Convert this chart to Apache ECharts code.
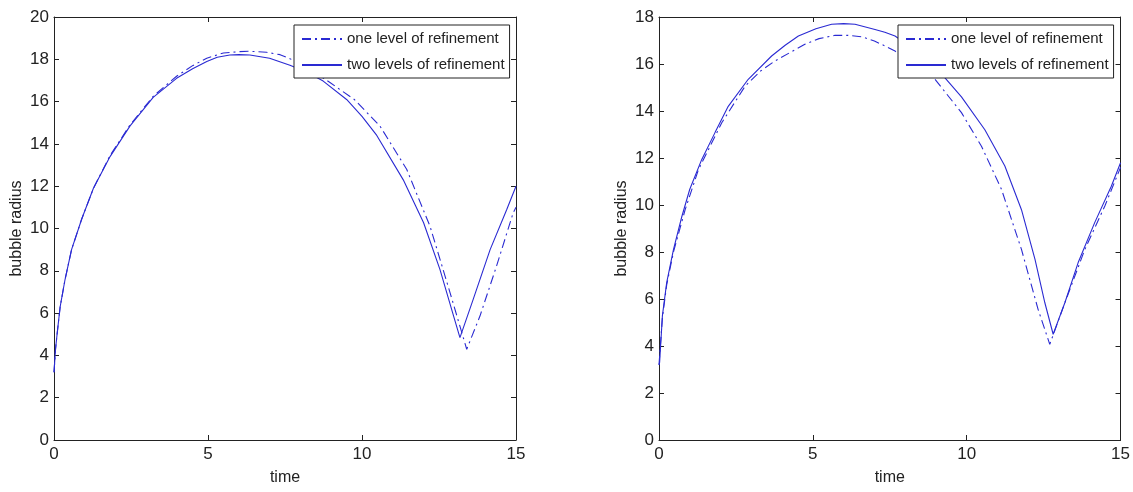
<!DOCTYPE html>
<html>
<head>
<meta charset="utf-8">
<script src="https://cdn.jsdelivr.net/npm/echarts@6/dist/echarts.min.js"></script>
<style>
  html, body { margin: 0; padding: 0; background: #fff; }
  #chart { width: 1133px; height: 492px; }
</style>
</head>
<body>
<div id="chart"></div>
<script>
// Bubble radius over time, two refinement levels, two runs side by side.
const seriesNames = ['one level of refinement', 'two levels of refinement'];
const xTicks = { min: 0, max: 15, step: 5 };
const leftYTicks = { min: 0, max: 20, step: 2 };
const rightYTicks = { min: 0, max: 18, step: 2 };

// left panel: [time, radius]
const leftOneLevel = [
  [0, 3.2], [0.05, 4.3], [0.1, 5.0], [0.2, 6.3], [0.36, 7.6], [0.57, 9.0],
  [0.9, 10.45], [1.28, 11.9], [1.82, 13.45], [2.47, 14.9], [3.22, 16.25],
  [3.98, 17.2], [4.5, 17.7], [4.96, 18.05], [5.5, 18.3], [6.0, 18.36],
  [6.36, 18.38], [6.9, 18.33], [7.34, 18.22], [7.66, 18.03], [8.3, 17.55],
  [8.96, 16.9], [9.75, 16.1], [10.58, 14.85], [11.45, 12.8], [12.21, 10.1],
  [12.86, 6.96], [13.4, 4.29], [13.83, 5.86], [14.37, 8.23], [14.91, 10.75],
  [15, 11.0]
];
const leftTwoLevels = [
  [0, 3.2], [0.05, 4.3], [0.1, 5.0], [0.2, 6.3], [0.36, 7.6], [0.57, 9.0],
  [0.9, 10.45], [1.28, 11.9], [1.82, 13.4], [2.47, 14.85], [3.22, 16.2],
  [3.98, 17.1], [4.5, 17.55], [4.96, 17.9], [5.3, 18.1], [5.71, 18.2],
  [6.0, 18.22], [6.36, 18.2], [7.0, 18.05], [7.66, 17.72], [8.2, 17.4],
  [8.74, 16.97], [9.5, 16.1], [10.0, 15.3], [10.48, 14.4], [11.34, 12.3],
  [12.0, 10.27], [12.53, 8.07], [12.91, 6.18], [13.18, 4.84], [13.61, 6.65],
  [14.16, 9.0], [14.7, 10.9], [15, 12.0]
];

// right panel: [time, radius]
const rightOneLevel = [
  [0, 3.2], [0.11, 5.2], [0.25, 6.6], [0.47, 8.0], [0.85, 9.8], [1.28, 11.5],
  [2.04, 13.5], [2.8, 15.06], [3.3, 15.7], [3.77, 16.13], [4.74, 16.84],
  [5.2, 17.08], [5.72, 17.22], [6.15, 17.22], [6.59, 17.16], [7.0, 16.98],
  [7.34, 16.77], [7.67, 16.55], [8.3, 16.05], [8.97, 15.35], [9.83, 13.93],
  [10.48, 12.5], [11.13, 10.67], [11.78, 8.11], [12.32, 5.56], [12.7, 4.07],
  [13.19, 5.84], [13.84, 8.11], [14.49, 9.96], [15, 11.6]
];
const rightTwoLevels = [
  [0, 3.2], [0.02, 3.3], [0.11, 5.28], [0.25, 6.7], [0.47, 8.1], [0.74, 9.5],
  [1.0, 10.67], [1.39, 11.94], [1.82, 13.08], [2.25, 14.2], [2.9, 15.35],
  [3.66, 16.34], [4.1, 16.8], [4.53, 17.19], [5.1, 17.5], [5.61, 17.69],
  [6.0, 17.72], [6.37, 17.69], [7.02, 17.47], [7.34, 17.35], [7.67, 17.19],
  [7.99, 16.9], [8.5, 16.45], [8.97, 15.9], [9.83, 14.6], [10.59, 13.2],
  [11.24, 11.66], [11.78, 9.8], [12.22, 7.69], [12.54, 5.84], [12.81, 4.5],
  [13.19, 5.84], [13.62, 7.54], [14.16, 9.25], [14.7, 10.8], [15, 11.8]
];

const lineColor = '#2a2ad2';
const axisColor = '#222';
const tickFont = { fontFamily: 'Liberation Sans', fontSize: 17, color: '#222' };
const nameFont = { fontFamily: 'Liberation Sans', fontSize: 16, color: '#222' };
const legendFont = { fontFamily: 'Liberation Sans', fontSize: 15, color: '#222' };
const dashDot = [9, 4, 2, 4];

const grids = [
  { left: 54, top: 17, width: 462, height: 423 },
  { left: 659, top: 17, width: 462, height: 423 }
];

function xAxisPair(gi) {
  const base = {
    type: 'value', gridIndex: gi, min: xTicks.min, max: xTicks.max, interval: xTicks.step,
    splitLine: { show: false },
    axisLine: { show: true, onZero: false, lineStyle: { color: axisColor, width: 1 } },
    axisTick: { show: true, inside: true, length: 5, lineStyle: { color: axisColor } }
  };
  return [
    Object.assign({}, base, {
      position: 'bottom', name: 'time', nameLocation: 'middle', nameGap: 30,
      nameTextStyle: nameFont,
      axisLabel: Object.assign({ margin: 6, showMinLabel: true, showMaxLabel: true }, tickFont)
    }),
    Object.assign({}, base, { position: 'top', axisLabel: { show: false } })
  ];
}

function yAxisPair(gi, ticks) {
  const base = {
    type: 'value', gridIndex: gi, min: ticks.min, max: ticks.max, interval: ticks.step,
    splitLine: { show: false },
    axisLine: { show: true, onZero: false, lineStyle: { color: axisColor, width: 1 } },
    axisTick: { show: true, inside: true, length: 5, lineStyle: { color: axisColor } }
  };
  return [
    Object.assign({}, base, {
      position: 'left', name: 'bubble radius', nameLocation: 'middle', nameGap: 29,
      nameRotate: 90, nameTextStyle: nameFont,
      axisLabel: Object.assign({ margin: 5, showMinLabel: true, showMaxLabel: true }, tickFont)
    }),
    Object.assign({}, base, { position: 'right', axisLabel: { show: false } })
  ];
}

function lineSeries(name, data, xi, yi, type) {
  return {
    name: name, type: 'line', data: data, xAxisIndex: xi, yAxisIndex: yi,
    symbol: 'none', showSymbol: false, smooth: false, silent: true,
    lineStyle: { color: lineColor, width: 1.1, type: type },
    itemStyle: { color: lineColor }
  };
}

function legendAt(left) {
  return {
    left: left, top: 25, orient: 'vertical', selectedMode: false,
    data: seriesNames,
    padding: [5, 5, 4, 7], itemGap: 8, itemWidth: 40, itemHeight: 18,
    borderColor: axisColor, borderWidth: 1, backgroundColor: '#fff',
    // line-only key: hide the marker drawn on the key line
    itemStyle: { color: 'rgba(0,0,0,0)', borderWidth: 0, opacity: 0 },
    textStyle: Object.assign({ lineHeight: 18 }, legendFont)
  };
}

const chart = echarts.init(document.getElementById('chart'), null, { renderer: 'canvas' });
chart.setOption({
  animation: false,
  backgroundColor: '#fff',
  grid: grids,
  xAxis: xAxisPair(0).concat(xAxisPair(1)),
  yAxis: yAxisPair(0, leftYTicks).concat(yAxisPair(1, rightYTicks)),
  legend: [legendAt(294), legendAt(898)],
  series: [
    lineSeries(seriesNames[0], leftOneLevel, 0, 0, dashDot),
    lineSeries(seriesNames[1], leftTwoLevels, 0, 0, 'solid'),
    lineSeries(seriesNames[0], rightOneLevel, 2, 2, dashDot),
    lineSeries(seriesNames[1], rightTwoLevels, 2, 2, 'solid')
  ]
});
</script>
</body>
</html>
